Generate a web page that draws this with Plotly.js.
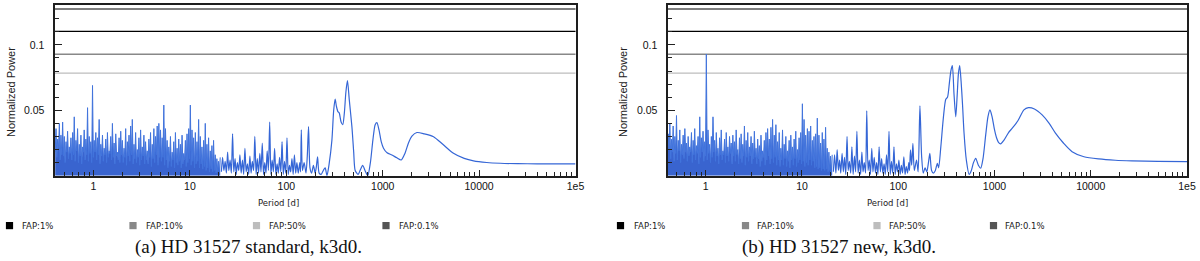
<!DOCTYPE html>
<html>
<head>
<meta charset="utf-8">
<script src="https://cdn.plot.ly/plotly-3.0.1.min.js"></script>
<style>
html,body{margin:0;padding:0;background:#fff;}
#chart{width:1200px;height:261px;}
</style>
</head>
<body>
<div id="chart"></div>
<script>
// ---------- DATA ----------
// Shared period grid of the short-period (dense) part [d]
const denseP = [
0.400,0.408,0.416,0.424,0.433,0.442,0.450,0.459,0.469,0.478,
0.488,0.497,0.507,0.518,0.528,0.538,0.549,0.560,0.571,0.583,
0.595,0.607,0.619,0.631,0.644,0.657,0.670,0.683,0.697,0.711,
0.725,0.740,0.754,0.769,0.785,0.800,0.817,0.833,0.850,0.867,
0.884,0.902,0.920,0.938,0.957,0.976,0.995,1.015,1.036,1.056,
1.078,1.099,1.121,1.144,1.167,1.190,1.214,1.238,1.263,1.288,
1.314,1.340,1.367,1.394,1.422,1.450,1.479,1.509,1.539,1.570,
1.601,1.634,1.666,1.700,1.734,1.768,1.804,1.840,1.877,1.914,
1.952,1.991,2.031,2.072,2.113,2.155,2.199,2.243,2.287,2.333,
2.380,2.427,2.476,2.525,2.576,2.627,2.680,2.733,2.788,2.844,
2.901,2.959,3.018,3.078,3.140,3.202,3.266,3.332,3.398,3.466,
3.536,3.606,3.679,3.752,3.827,3.904,3.982,4.062,4.143,4.226,
4.310,4.397,4.484,4.574,4.666,4.759,4.854,4.951,5.050,5.151,
5.254,5.360,5.467,5.576,5.688,5.801,5.917,6.036,6.156,6.280,
6.405,6.533,6.664,6.797,6.933,7.072,7.213,7.358,7.505,7.655,
7.808,7.964,8.124,8.286,8.452,8.621,8.793,8.969,9.148,9.331,
9.518,9.709,9.903,10.10,10.30,10.51,10.72,10.93,11.15,11.38,
11.60,11.84,12.07,12.31,12.56,12.81,13.07,13.33,13.60,13.87,
14.15,14.43,14.72,15.01,15.31,15.62,15.93,16.25,16.58,16.91,
17.25,17.59,17.94,18.30,18.67,19.04,19.42,19.81,20.21,20.61
];
// (a) HD 31527 standard, k3d0 - normalized power on denseP
const aDensePow = [
0.018,0.036,0.014,0.028,0.021,0.040,0.012,0.031,0.016,0.041,
0.015,0.030,0.010,0.026,0.018,0.034,0.013,0.022,0.017,0.029,
0.012,0.033,0.016,0.045,0.011,0.027,0.019,0.036,0.010,0.024,
0.015,0.031,0.009,0.022,0.018,0.035,0.012,0.028,0.016,0.052,
0.011,0.030,0.017,0.026,0.010,0.069,0.014,0.027,0.018,0.033,
0.012,0.029,0.016,0.043,0.009,0.024,0.015,0.031,0.011,0.021,
0.016,0.028,0.010,0.033,0.014,0.019,0.017,0.030,0.012,0.040,
0.014,0.025,0.009,0.032,0.015,0.018,0.012,0.029,0.010,0.034,
0.016,0.027,0.010,0.021,0.014,0.036,0.008,0.026,0.015,0.031,
0.011,0.038,0.016,0.043,0.009,0.024,0.013,0.033,0.010,0.020,
0.014,0.029,0.008,0.035,0.012,0.022,0.015,0.031,0.009,0.026,
0.012,0.019,0.009,0.028,0.014,0.033,0.007,0.024,0.013,0.036,
0.010,0.030,0.016,0.038,0.008,0.040,0.014,0.035,0.011,0.029,
0.014,0.054,0.008,0.036,0.012,0.027,0.006,0.022,0.011,0.030,
0.007,0.018,0.012,0.026,0.006,0.033,0.010,0.021,0.008,0.028,
0.011,0.024,0.006,0.031,0.009,0.017,0.012,0.027,0.007,0.032,
0.010,0.036,0.013,0.054,0.008,0.035,0.011,0.029,0.006,0.033,
0.009,0.026,0.011,0.043,0.006,0.030,0.009,0.022,0.005,0.027,
0.007,0.040,0.004,0.024,0.006,0.029,0.003,0.019,0.005,0.023,
0.003,0.027,0.004,0.016,0.002,0.013,0.003,0.011,0.002,0.014
];
// (b) HD 31527 new, k3d0 - normalized power on denseP
const bDensePow = [
0.016,0.032,0.020,0.040,0.013,0.028,0.018,0.038,0.011,0.030,
0.017,0.046,0.012,0.027,0.019,0.035,0.010,0.024,0.016,0.031,
0.013,0.036,0.018,0.025,0.011,0.030,0.015,0.022,0.018,0.033,
0.010,0.027,0.016,0.036,0.012,0.023,0.017,0.030,0.009,0.045,
0.014,0.029,0.018,0.034,0.011,0.026,0.015,0.093,0.012,0.035,
0.017,0.024,0.010,0.030,0.014,0.045,0.018,0.027,0.011,0.033,
0.015,0.021,0.009,0.029,0.016,0.035,0.012,0.019,0.016,0.028,
0.010,0.033,0.015,0.022,0.011,0.030,0.017,0.025,0.009,0.031,
0.015,0.026,0.011,0.035,0.016,0.020,0.009,0.029,0.013,0.032,
0.010,0.024,0.015,0.038,0.008,0.027,0.014,0.033,0.011,0.022,
0.015,0.030,0.009,0.025,0.013,0.034,0.014,0.021,0.009,0.028,
0.013,0.023,0.007,0.031,0.011,0.019,0.014,0.027,0.008,0.033,
0.012,0.036,0.015,0.028,0.009,0.037,0.013,0.043,0.010,0.031,
0.014,0.039,0.008,0.026,0.012,0.033,0.007,0.021,0.012,0.035,
0.008,0.024,0.013,0.030,0.007,0.019,0.011,0.027,0.006,0.031,
0.012,0.022,0.008,0.028,0.013,0.034,0.007,0.020,0.010,0.029,
0.012,0.033,0.009,0.055,0.011,0.043,0.007,0.031,0.010,0.036,
0.008,0.034,0.012,0.038,0.008,0.027,0.011,0.030,0.006,0.032,
0.007,0.044,0.005,0.031,0.006,0.025,0.004,0.033,0.005,0.028,
0.004,0.037,0.005,0.021,0.003,0.018,0.004,0.015,0.002,0.016
];
// (a) long-period part: periods [d] and power
const aLongP = [
21.2,21.8,22.5,23.2,23.9,24.6,25.3,26.1,26.9,27.7,
28.5,29.4,30.2,31.1,32.1,33.0,34.0,35.1,36.1,37.2,
38.3,39.5,40.7,41.9,43.1,44.4,45.8,47.1,48.6,50.0,
51.5,53.1,54.6,56.3,58.0,59.7,61.5,63.3,65.2,67.2,
69.2,71.3,73.4,75.6,77.9,80.2,82.6,85.1,87.7,90.3,
93.0,95.8,98.7,101.6,104.7,107.8,111.0,114.4,117.8,121.3,
125.0,128.7,
133,138,140.5,143,147,153,160,165,170,176,183,191,199,205,211,219,230,242,253,264,
278,297,310,321,331,343,354,370,385,400,415,431,450,479,500,518,555,590,619,655,700,
745,790,835,871,915,965,1019,1110,1245,1400,1556,1700,1850,2010,2264,2700,3366,4200,
5420,7000,8750,12000,16550,25000,40000,70000,100000
];
const aLongPow = [
0.003,0.014,0.004,0.011,0.002,0.018,0.004,0.012,0.002,0.032,
0.003,0.013,0.001,0.010,0.004,0.016,0.002,0.012,0.001,0.021,
0.003,0.009,0.001,0.015,0.002,0.011,0.004,0.030,0.001,0.013,
0.002,0.017,0.003,0.025,0.001,0.010,0.002,0.019,0.004,0.041,
0.001,0.012,0.003,0.021,0.001,0.009,0.002,0.014,0.003,0.026,
0.001,0.011,0.002,0.029,0.001,0.008,0.003,0.013,0.001,0.016,
0.002,0.010,
0.002,0.010,0.003,0.035,0.004,0.010,0.002,0.015,0.0375,0.006,0.002,0.008,0.002,0.007,0.0145,0.002,0.001,0.004,0.006,0.000,
0.009,0.027,0.050,0.0585,0.053,0.049,0.048,0.041,0.039,0.048,0.064,0.0727,0.058,0.0375,0.018,0.004,0.001,0.005,0.008,0.004,0.000,
0.010,0.027,0.039,0.0406,0.035,0.026,0.021,0.0175,0.0158,0.0137,0.0120,0.017,0.025,0.0302,0.0330,0.0320,0.0298,0.0240,
0.0171,0.0132,0.0113,0.0101,0.0095,0.0092,0.0091,0.0090,0.0090
];
// (b) long-period part: periods [d] and power
const bLongP = [
21.2,21.8,22.5,23.2,23.9,24.6,25.3,26.1,26.9,27.7,
28.5,29.4,30.2,31.1,32.1,33.0,34.0,35.1,36.1,37.2,
38.3,39.5,40.7,41.9,43.1,44.4,45.8,47.1,48.6,50.0,
51.5,53.1,54.6,56.3,58.0,59.7,61.5,63.3,65.2,67.2,
69.2,71.3,73.4,75.6,77.9,80.2,82.6,85.1,87.7,90.3,
93.0,95.8,98.7,101.6,104.7,107.8,111.0,114.4,117.8,121.3,
125.0,128.7,
131,134,138,142,147,155,161,168,175,182,190,198,206,213,222,232,243,255,263,
277,295,312,325,340,352,365,380,396,410,422,435,450,465,483,510,545,575,605,638,680,719,
760,810,855,898,945,995,1050,1100,1159,1250,1400,1530,1750,2021,2250,2600,3127,3700,4300,
5200,6400,8500,12100,18000,26800,50000,100000
];
const bLongPow = [
0.003,0.016,0.002,0.020,0.004,0.012,0.002,0.017,0.003,0.014,
0.001,0.030,0.004,0.011,0.002,0.022,0.001,0.015,0.003,0.034,
0.002,0.012,0.001,0.018,0.003,0.010,0.002,0.0495,0.004,0.012,
0.001,0.021,0.003,0.014,0.002,0.010,0.001,0.022,0.003,0.013,
0.002,0.009,0.001,0.016,0.003,0.034,0.001,0.011,0.002,0.022,
0.001,0.009,0.003,0.012,0.001,0.008,0.002,0.0145,0.001,0.007,
0.002,0.010,
0.004,0.0197,0.008,0.0248,0.004,0.012,0.003,0.0534,0.015,0.002,0.006,0.003,0.010,0.0171,0.004,0.002,0.004,0.0095,0.006,
0.022,0.045,0.0585,0.060,0.071,0.080,0.0842,0.062,0.045,0.062,0.078,0.0842,0.072,0.055,0.0325,0.012,0.001,0.004,0.010,0.0133,0.008,0.0057,
0.013,0.031,0.045,0.0503,0.045,0.036,0.029,0.0255,0.0243,0.027,0.033,0.0363,0.042,0.0503,0.0520,0.0510,0.0465,0.040,0.0325,
0.0250,0.0184,0.0145,0.0128,0.0118,0.0113,0.0109,0.0107
];
// False-alarm-probability levels (same for both panels)
const fapNames  = ['FAP:1%','FAP:10%','FAP:50%','FAP:0.1%'];
const fapLevels = [0.1103, 0.0929, 0.0784, 0.1274];
const fapColors = ['#000000','#888888','#bdbdbd','#555555'];
// Axis ticks
const xTickVals = [1,10,100,1000,10000,100000];
const xTickText = ['1','10','100','1000','10000','1e5'];
const yTickVals = [0.05,0.1];
const yTickText = ['0.05','0.1'];
const captions = ['(a) HD 31527 standard, k3d0.', '(b) HD 31527 new, k3d0.'];

// ---------- STYLE / LAYOUT ----------
const W = 1200, H = 261;
const px = v => v / W;
const py = v => 1 - v / H;
const blue = '#3566d6';

const minorX = [];
for (let e = -1; e < 5; e++) for (let m = 2; m <= 9; m++) minorX.push(m * Math.pow(10, e));

function xAxis(domain, range) {
  return {
    type: 'log', domain: domain, range: range,
    tickvals: xTickVals, ticktext: xTickText,
    ticks: 'inside', ticklen: 6, tickwidth: 1, tickcolor: '#222',
    minor: {tickvals: minorX, ticks: 'inside', ticklen: 3.5, tickwidth: 1, tickcolor: '#222', showgrid: false},
    showline: true, mirror: true, linewidth: 2, linecolor: '#1e1e1e',
    showgrid: false, zeroline: false,
    tickfont: {family: 'Liberation Sans, Arial, sans-serif', size: 10.5, color: '#111'}
  };
}
function yAxis(anchor) {
  return {
    domain: [1 - 175.7 / H, 1 - 5 / H], range: [0, 0.1305], anchor: anchor,
    tickvals: yTickVals, ticktext: yTickText,
    ticks: 'inside', ticklen: 7, tickwidth: 1, tickcolor: '#222',
    minor: {dtick: 0.01, ticks: 'inside', ticklen: 4, tickwidth: 1, tickcolor: '#222', showgrid: false},
    showline: true, mirror: true, linewidth: 2, linecolor: '#1e1e1e',
    showgrid: false, zeroline: false, ticklabelstandoff: 6,
    tickfont: {family: 'Liberation Sans, Arial, sans-serif', size: 10.5, color: '#111'}
  };
}

const traces = [
  {x: denseP, y: aDensePow, xaxis: 'x', yaxis: 'y', mode: 'lines',
   line: {color: '#4274dc', width: 1}, fill: 'tozeroy', fillcolor: 'rgba(46,92,204,0.95)', hoverinfo: 'skip'},
  {x: aLongP, y: aLongPow, xaxis: 'x', yaxis: 'y', mode: 'lines',
   line: {color: blue, width: 1.2, shape: 'spline', smoothing: 0.7}, hoverinfo: 'skip'},
  {x: denseP, y: bDensePow, xaxis: 'x2', yaxis: 'y2', mode: 'lines',
   line: {color: '#4274dc', width: 1}, fill: 'tozeroy', fillcolor: 'rgba(46,92,204,0.95)', hoverinfo: 'skip'},
  {x: bLongP, y: bLongPow, xaxis: 'x2', yaxis: 'y2', mode: 'lines',
   line: {color: blue, width: 1.2, shape: 'spline', smoothing: 0.7}, hoverinfo: 'skip'}
];

const shapes = [];
const annotations = [];
const smallFont = {family: 'DejaVu Sans, sans-serif', size: 8.5, color: '#222'};
const panels = [
  {xa: 'x', ya: 'y', ylabX: 11, perX: 278, capX: 248.5,
   sq: [9.5, 133, 256.5, 386], tx: [20, 144, 267, 397]},
  {xa: 'x2', ya: 'y2', ylabX: 623, perX: 887, capX: 839,
   sq: [620.5, 745.5, 877, 993.5], tx: [632, 755, 887, 1003]}
];
panels.forEach((p, k) => {
  fapLevels.forEach((lv, i) => {
    shapes.push({type: 'line', xref: p.xa + ' domain', x0: 0, x1: 1, yref: p.ya, y0: lv, y1: lv,
                 line: {color: fapColors[i], width: 1.4}, layer: 'below'});
    shapes.push({type: 'rect', xref: 'paper', yref: 'paper',
                 x0: px(p.sq[i] - 3.6), x1: px(p.sq[i] + 3.6), y0: py(229.2), y1: py(222),
                 fillcolor: fapColors[i], line: {width: 0}});
    annotations.push({xref: 'paper', yref: 'paper', x: px(p.tx[i]), y: py(225.6), xanchor: 'left', yanchor: 'middle',
                      text: fapNames[i], showarrow: false, font: smallFont});
  });
  annotations.push({xref: 'paper', yref: 'paper', x: px(p.ylabX), y: py(92), textangle: -90,
                    text: 'Normalized Power', showarrow: false, xanchor: 'center', yanchor: 'middle',
                    font: {family: 'Liberation Sans, Arial, sans-serif', size: 11, color: '#222'}});
  annotations.push({xref: 'paper', yref: 'paper', x: px(p.perX), y: py(203), xanchor: 'center', yanchor: 'middle',
                    text: 'Period [d]', showarrow: false, font: smallFont});
  annotations.push({xref: 'paper', yref: 'paper', x: px(p.capX), y: py(247), xanchor: 'center', yanchor: 'middle',
                    text: captions[k], showarrow: false,
                    font: {family: 'Liberation Serif, Times New Roman, serif', size: 19, color: '#111'}});
});

const layout = {
  width: W, height: H,
  margin: {l: 0, r: 0, t: 0, b: 0},
  paper_bgcolor: '#fff', plot_bgcolor: '#fff',
  showlegend: false,
  xaxis: xAxis([54.5 / W, 575.5 / W], [-0.405, 5]),
  yaxis: yAxis('x'),
  xaxis2: xAxis([667.5 / W, 1187 / W], [-0.397, 5]),
  yaxis2: yAxis('x2'),
  shapes: shapes,
  annotations: annotations
};
layout.xaxis.anchor = 'y';
layout.xaxis2.anchor = 'y2';

Plotly.newPlot('chart', traces, layout, {staticPlot: true, displayModeBar: false});
</script>
</body>
</html>
